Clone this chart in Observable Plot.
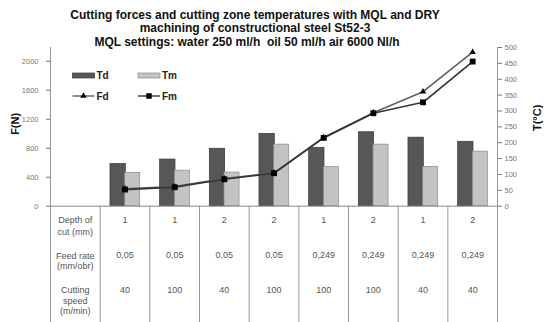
<!DOCTYPE html>
<html>
<head>
<meta charset="utf-8">
<script src="https://cdn.jsdelivr.net/npm/d3@7"></script>
<script src="https://cdn.jsdelivr.net/npm/@observablehq/plot@0.6"></script>
<style>
  html, body { margin: 0; padding: 0; background: #fff; }
</style>
</head>
<body>
<div id="chart"></div>
<script>
// ---- data ----
const titleLines = [
  "Cutting forces and cutting zone temperatures with MQL and DRY",
  "machining of constructional steel St52-3",
  "MQL settings: water 250 ml/h  oil 50 ml/h air 6000 Nl/h"
];
const rowLabels = ["Depth of\ncut (mm)", "Feed rate\n(mm/obr)", "Cutting\nspeed\n(m/min)"];
const depth = ["1", "1", "2", "2", "1", "2", "1", "2"];
const feed = ["0,05", "0,05", "0,05", "0,05", "0,249", "0,249", "0,249", "0,249"];
const speed = ["40", "100", "40", "100", "100", "100", "40", "40"];
const Td = [133, 147, 181, 228, 184, 233, 216, 203];
const Tm = [105, 112, 106, 194, 123, 194, 124, 172];
const Fd = [240, 270, 380, 460, 950, 1290, 1580, 2125];
const Fm = [230, 262, 372, 455, 943, 1283, 1434, 1996];
const Fticks = [0, 400, 800, 1200, 1600, 2000];
const Tticks = [0, 50, 100, 150, 200, 250, 300, 350, 400, 450, 500];

// ---- layout ----
const W = 544, H = 322;
const mTop = 47, mBottom = 116.3, mLeft = 50, mRight = 47;
const Tmax = 500, Fmax = 2190;
const k = Tmax / Fmax; // F -> T-scale units
const idx = d3.range(Td.length);
const boundaries = d3.range(0, idx.length + 2);
const font = "Liberation Sans, Arial, Helvetica, sans-serif";
const frameH = H - mTop - mBottom;
const tableText = { frameAnchor: "bottom", lineAnchor: "middle", fontSize: 9, fill: "#555" };
const titleText = { frameAnchor: "top", lineAnchor: "middle", fontWeight: "bold", fontSize: 12, fill: "#111" };

const chart = Plot.plot({
  width: W,
  height: H,
  marginTop: mTop,
  marginBottom: mBottom,
  marginLeft: mLeft,
  marginRight: mRight,
  style: { fontFamily: font, background: "#fff", overflow: "visible" },
  x: { type: "linear", domain: [0, idx.length + 1], axis: null },
  y: { domain: [0, Tmax], axis: null },
  marks: [
    // bars (temperatures, right axis)
    Plot.rectY(idx, { x1: i => i + 1, x2: i => i + 2, y: i => Td[i], insetLeft: 10.3, insetRight: 24, fill: "#575757", stroke: "#3a3a3a", strokeWidth: 0.7 }),
    Plot.rectY(idx, { x1: i => i + 1, x2: i => i + 2, y: i => Tm[i], insetLeft: 25, insetRight: 9.6, fill: "#c3c3c3", stroke: "#8a8a8a", strokeWidth: 0.7 }),
    // baseline
    Plot.ruleY([0], { stroke: "#888", strokeWidth: 1 }),
    // table grid lines (inner) and axis lines (edges)
    Plot.ruleX(boundaries.slice(1, -1), { x: d => d, insetTop: frameH, insetBottom: -mBottom, stroke: "#999", strokeWidth: 1 }),
    Plot.ruleX([0, idx.length + 1], { x: d => d, insetBottom: -mBottom, stroke: "#999", strokeWidth: 1 }),
    // axes
    Plot.axisY(Fticks.map(f => f * k), { anchor: "left", tickSize: 4, tickPadding: 8, tickFormat: t => String(Math.round(t / k)), fontSize: 7.5, color: "#777", label: null }),
    Plot.axisY(Tticks, { anchor: "right", tickSize: 4, tickPadding: 3, fontSize: 7.5, color: "#777", label: null }),
    // force lines (left axis)
    Plot.line(idx, { x: i => i + 1.5, y: i => Fd[i] * k, stroke: "#606060", strokeWidth: 1.6 }),
    Plot.line(idx, { x: i => i + 1.5, y: i => Fm[i] * k, stroke: "#353535", strokeWidth: 1.7 }),
    Plot.dot(idx, { x: i => i + 1.5, y: i => Fd[i] * k, symbol: "triangle", r: 2.4, fill: "#000" }),
    Plot.dot(idx, { x: i => i + 1.5, y: i => Fm[i] * k, symbol: "square", r: 3.3, fill: "#000" }),
    // axis titles
    Plot.text(["F(N)"], { frameAnchor: "left", textAnchor: "middle", lineAnchor: "middle", dx: -35, dy: -3, rotate: -90, fontWeight: "bold", fontSize: 11, fill: "#111" }),
    Plot.text(["T(°C)"], { frameAnchor: "right", textAnchor: "middle", lineAnchor: "middle", dx: 40, dy: -9, rotate: -90, fontWeight: "bold", fontSize: 11, fill: "#111" }),
    // chart title
    Plot.text([titleLines[0]], { ...titleText, dx: -19, dy: -32 }),
    Plot.text([titleLines[1]], { ...titleText, dx: -19, dy: -19 }),
    Plot.text([titleLines[2]], { ...titleText, dx: -27, dy: -5 }),
    // table row labels
    Plot.text([rowLabels[0]], { ...tableText, x: 0.5, dy: 19.3, lineHeight: 1.33 }),
    Plot.text([rowLabels[1]], { ...tableText, x: 0.5, dy: 54.3, lineHeight: 1.12 }),
    Plot.text([rowLabels[2]], { ...tableText, x: 0.5, dy: 94, lineHeight: 1.15 }),
    // table values
    Plot.text(idx, { ...tableText, x: i => i + 1.5, text: i => depth[i], dy: 14.3 }),
    Plot.text(idx, { ...tableText, x: i => i + 1.5, text: i => feed[i], dy: 49.3 }),
    Plot.text(idx, { ...tableText, x: i => i + 1.5, text: i => speed[i], dy: 84.3 })
  ]
});

// legend inside the plot area
const svg = d3.select(chart);
const lg = svg.append("g").attr("font-family", font).attr("font-size", 10).attr("font-weight", "bold")
  .attr("fill", "#222").attr("text-anchor", "start");
const legendItems = [
  { name: "Td", type: "bar", fill: "#575757", stroke: "#3a3a3a", x: 72.5, y: 75.5 },
  { name: "Tm", type: "bar", fill: "#c3c3c3", stroke: "#8a8a8a", x: 138, y: 75.5 },
  { name: "Fd", type: "line", symbol: d3.symbolTriangle, size: 18, stroke: "#606060", x: 72.5, y: 96 },
  { name: "Fm", type: "line", symbol: d3.symbolSquare, size: 30, stroke: "#353535", x: 138, y: 96 }
];
for (const it of legendItems) {
  if (it.type === "bar") {
    lg.append("rect").attr("x", it.x).attr("y", it.y - 2.5).attr("width", 22).attr("height", 5)
      .attr("fill", it.fill).attr("stroke", it.stroke).attr("stroke-width", 0.7);
  } else {
    lg.append("line").attr("x1", it.x).attr("x2", it.x + 22).attr("y1", it.y).attr("y2", it.y)
      .attr("stroke", it.stroke).attr("stroke-width", 1.4);
    lg.append("path").attr("d", d3.symbol(it.symbol, it.size)()).attr("transform", `translate(${it.x + 11},${it.y})`).attr("fill", "#000");
  }
  lg.append("text").attr("x", it.x + 24).attr("y", it.y).attr("dy", "0.35em").attr("text-anchor", "start").text(it.name);
}

document.getElementById("chart").appendChild(chart);
</script>
</body>
</html>
